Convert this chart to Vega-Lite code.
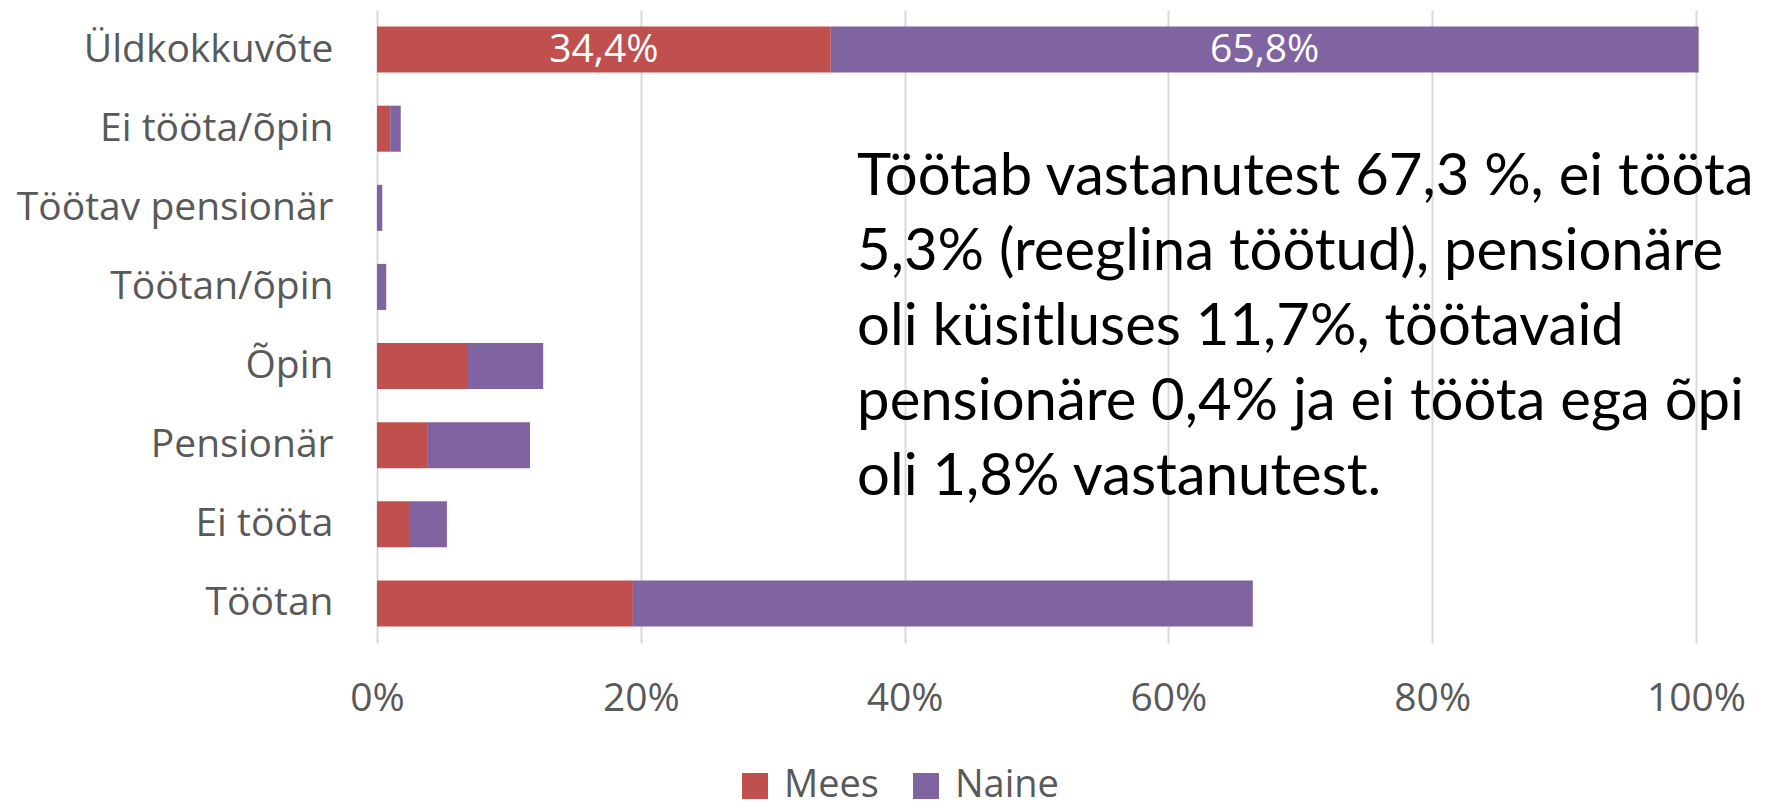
{
  "$schema": "https://vega.github.io/schema/vega-lite/v6.json",
  "autosize": "none",
  "padding": {"left": 377, "top": 10, "right": 75, "bottom": 168},
  "width": 1319,
  "height": 633,
  "background": "white",
  "config": {
    "view": {"stroke": null},
    "font": "Open Sans"
  },
  "datasets": {
    "bars": [
      {"category": "Üldkokkuvõte", "sex": "Mees", "value": 34.4, "label": "34,4%"},
      {"category": "Üldkokkuvõte", "sex": "Naine", "value": 65.8, "label": "65,8%"},
      {"category": "Ei tööta/õpin", "sex": "Mees", "value": 1.0, "label": ""},
      {"category": "Ei tööta/õpin", "sex": "Naine", "value": 0.8, "label": ""},
      {"category": "Töötav pensionär", "sex": "Mees", "value": 0.0, "label": ""},
      {"category": "Töötav pensionär", "sex": "Naine", "value": 0.4, "label": ""},
      {"category": "Töötan/õpin", "sex": "Mees", "value": 0.0, "label": ""},
      {"category": "Töötan/õpin", "sex": "Naine", "value": 0.7, "label": ""},
      {"category": "Õpin", "sex": "Mees", "value": 6.9, "label": ""},
      {"category": "Õpin", "sex": "Naine", "value": 5.7, "label": ""},
      {"category": "Pensionär", "sex": "Mees", "value": 3.8, "label": ""},
      {"category": "Pensionär", "sex": "Naine", "value": 7.8, "label": ""},
      {"category": "Ei tööta", "sex": "Mees", "value": 2.5, "label": ""},
      {"category": "Ei tööta", "sex": "Naine", "value": 2.8, "label": ""},
      {"category": "Töötan", "sex": "Mees", "value": 19.4, "label": ""},
      {"category": "Töötan", "sex": "Naine", "value": 47.0, "label": ""}
    ],
    "notes": [
      {"line": 1, "text": "Töötab vastanutest 67,3 %, ei tööta"},
      {"line": 2, "text": "5,3% (reeglina töötud), pensionäre"},
      {"line": 3, "text": "oli küsitluses 11,7%, töötavaid"},
      {"line": 4, "text": "pensionäre 0,4% ja ei tööta ega õpi"},
      {"line": 5, "text": "oli 1,8% vastanutest."}
    ]
  },
  "layer": [
    {
      "layer": [
        {
          "data": {"name": "bars"},
          "mark": {"type": "bar"},
          "encoding": {
            "y": {
              "field": "category",
              "type": "nominal",
              "sort": ["Üldkokkuvõte", "Ei tööta/õpin", "Töötav pensionär", "Töötan/õpin", "Õpin", "Pensionär", "Ei tööta", "Töötan"],
              "scale": {"paddingInner": 0.418, "paddingOuter": 0.209},
              "axis": {
                "title": null,
                "ticks": false,
                "domain": false,
                "labelPadding": 44,
                "labelFontSize": 39,
                "labelColor": "#595959",
                "labelFont": "Open Sans",
                "labelLimit": 500
              }
            },
            "x": {
              "field": "value",
              "type": "quantitative",
              "stack": "zero",
              "scale": {"domain": [0, 100], "nice": false},
              "axis": {
                "title": null,
                "values": [0, 20, 40, 60, 80, 100],
                "labelExpr": "datum.value + '%'",
                "ticks": false,
                "domain": false,
                "grid": true,
                "gridColor": "#D9D9D9",
                "gridWidth": 2,
                "labelPadding": 36,
                "labelFontSize": 39,
                "labelColor": "#595959",
                "labelFont": "Open Sans",
                "labelFlush": false
              }
            },
            "color": {
              "field": "sex",
              "type": "nominal",
              "scale": {"domain": ["Mees", "Naine"], "range": ["#C0504D", "#8064A2"]},
              "legend": {
                "title": null,
                "orient": "none",
                "direction": "horizontal",
                "legendX": 359,
                "legendY": 757,
                "padding": 0,
                "symbolType": "square",
                "symbolSize": 676,
                "symbolStrokeWidth": 0,
                "labelFontSize": 38,
                "labelColor": "#595959",
                "labelFont": "Open Sans",
                "labelOffset": 10,
                "columnPadding": 28
              }
            },
            "order": {"field": "sex", "sort": "ascending"}
          }
        },
        {
          "data": {"name": "bars"},
          "transform": [
            {"stack": "value", "groupby": ["category"], "sort": [{"field": "sex", "order": "ascending"}], "as": ["v0", "v1"]},
            {"calculate": "(datum.v0 + datum.v1) / 2", "as": "mid"}
          ],
          "mark": {"type": "text", "color": "white", "fontSize": 39, "font": "Open Sans", "align": "center", "baseline": "middle"},
          "encoding": {
            "y": {
              "field": "category",
              "type": "nominal",
              "sort": ["Üldkokkuvõte", "Ei tööta/õpin", "Töötav pensionär", "Töötan/õpin", "Õpin", "Pensionär", "Ei tööta", "Töötan"]
            },
            "x": {"field": "mid", "type": "quantitative"},
            "text": {"field": "label"}
          }
        }
      ]
    },
    {
      "data": {"name": "notes"},
      "mark": {"type": "text", "color": "black", "fontSize": 58, "font": "Lato", "align": "left", "baseline": "alphabetic"},
      "encoding": {
        "x": {"datum": 36.4, "type": "quantitative"},
        "y": {
          "field": "line",
          "type": "quantitative",
          "scale": {"domain": [-1.473, 6.967], "reverse": true, "nice": false, "zero": false},
          "axis": null
        },
        "text": {"field": "text"}
      }
    }
  ],
  "resolve": {"scale": {"y": "independent"}}
}
